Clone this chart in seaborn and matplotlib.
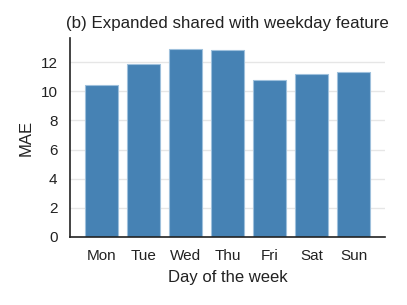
import pandas as pd
from matplotlib import pyplot as plt
import seaborn as sns

days = ['Mon', 'Tue', 'Wed', 'Thu', 'Fri', 'Sat', 'Sun']
mae = [10.42, 11.87, 12.92, 12.82, 10.80, 11.18, 11.30]

df = pd.DataFrame({'day': days, 'mae': mae})

sns.set_style('whitegrid')
plt.rcParams['font.family'] = ['Liberation Sans', 'DejaVu Sans']

fig = plt.figure(figsize=(4.07, 3.05), dpi=100)
ax = fig.add_axes([0.172, 0.223, 0.774, 0.652])

sns.barplot(data=df, x='day', y='mae', color='#4682B4', saturation=1,
            edgecolor='#9ec0dc', linewidth=0.8, width=0.78, ax=ax)

ax.set_xlim(-0.75, 6.75)
ax.set_ylim(0, 13.65)
ax.set_yticks([0, 2, 4, 6, 8, 10, 12])
ax.grid(axis='x', visible=False)
ax.grid(axis='y', color='#e6e6e6', linewidth=1)
sns.despine(ax=ax)
for s in ['left', 'bottom']:
    ax.spines[s].set_color('#222222')
    ax.spines[s].set_linewidth(1.2)

ax.tick_params(axis='both', labelsize=11, colors='#222222', length=0, pad=9)
ax.set_xlabel('Day of the week', fontsize=12, color='#222222', labelpad=5)
ax.set_ylabel('MAE', fontsize=12, color='#222222', labelpad=5)
ax.set_title('(b) Expanded shared with weekday feature', fontsize=12.2,
             color='#222222', pad=7)

fig.savefig('out.png', dpi=100)
